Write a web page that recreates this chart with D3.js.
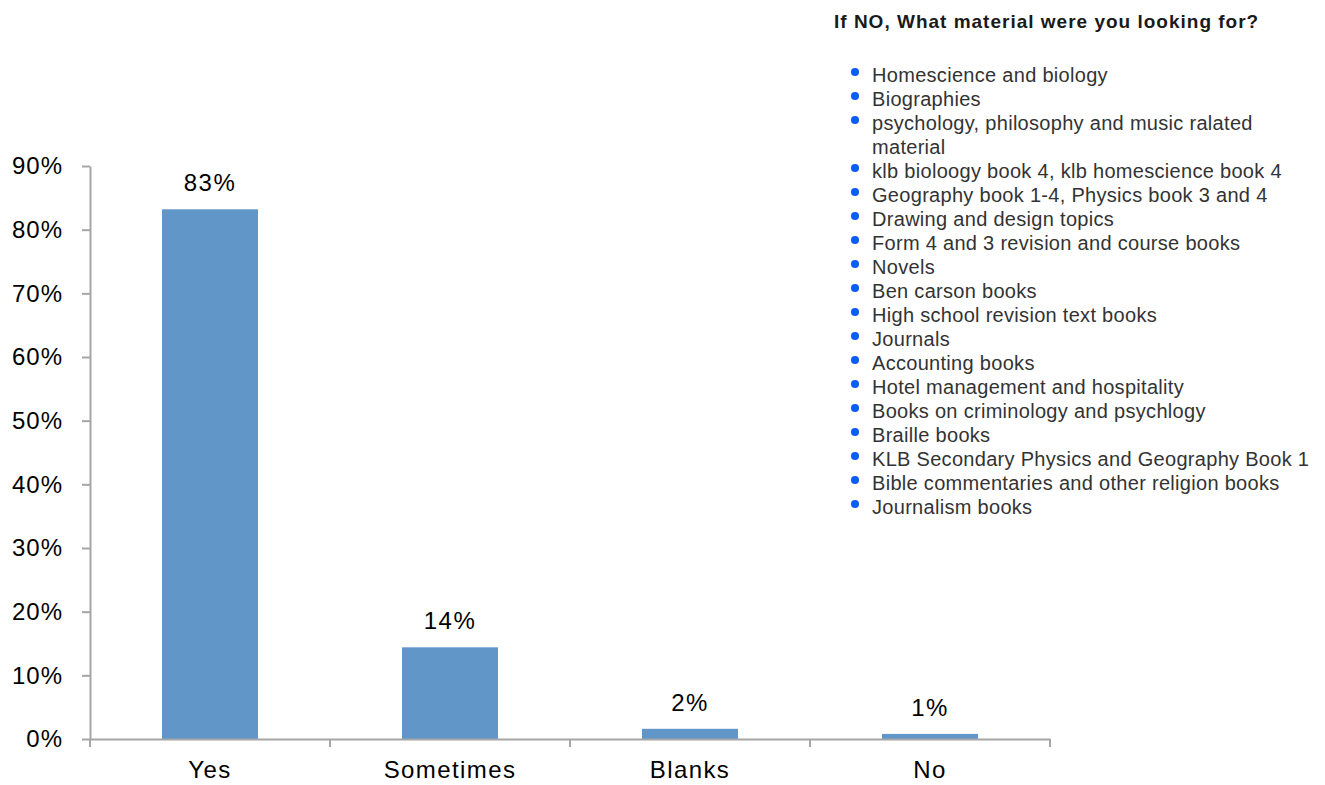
<!DOCTYPE html>
<html>
<head>
<meta charset="utf-8">
<script src="https://cdn.jsdelivr.net/npm/d3@7"></script>
<style>
  html, body { margin: 0; padding: 0; background: #fff; }
  svg { display: block; font-family: "Liberation Sans", Arial, Helvetica, sans-serif; }
</style>
</head>
<body>
<svg id="chart" width="1325" height="785"></svg>
<script>
// Survey answers and their shares
const categories = ["Yes", "Sometimes", "Blanks", "No"];
const shares = [0.832, 0.144, 0.016, 0.008];
const yTicks = [0, 0.1, 0.2, 0.3, 0.4, 0.5, 0.6, 0.7, 0.8, 0.9];

// Free-text answers to the follow-up question
const noteTitle = "If NO, What material were you looking for?";
const materials = [
  "Homescience and biology",
  "Biographies",
  "psychology, philosophy and music ralated material",
  "klb bioloogy book 4, klb homescience book 4",
  "Geography book 1-4, Physics book 3 and 4",
  "Drawing and design topics",
  "Form 4 and 3 revision and course books",
  "Novels",
  "Ben carson books",
  "High school revision text books",
  "Journals",
  "Accounting books",
  "Hotel management and hospitality",
  "Books on criminology and psychlogy",
  "Braille books",
  "KLB Secondary Physics and Geography Book 1",
  "Bible commentaries and other religion books",
  "Journalism books"
];

const svg = d3.select("#chart");
const plot = { left: 90, right: 1050, top: 166, bottom: 739 };
const axisColor = "#a6a6a6";
const barColor = "#6196c9";
const labelFont = "'Liberation Sans', Arial, sans-serif";

const x = d3.scaleBand()
  .domain(categories)
  .range([plot.left, plot.right])
  .paddingInner(0.6)
  .paddingOuter(0.3);

const y = d3.scaleLinear()
  .domain([0, 0.9])
  .range([plot.bottom, plot.top]);

// Y axis
const yAxis = svg.append("g")
  .attr("transform", `translate(${plot.left},0)`)
  .call(d3.axisLeft(y).tickValues(yTicks).tickFormat(d3.format(".0%")).tickSize(8).tickPadding(19).tickSizeOuter(0));
yAxis.select(".domain").attr("stroke", axisColor).attr("stroke-width", 2);
yAxis.selectAll(".tick line").attr("stroke", axisColor).attr("stroke-width", 2);
yAxis.selectAll(".tick text")
  .attr("font-size", 24).attr("letter-spacing", "1px").attr("fill", "#000")
  .attr("font-family", labelFont);

// Bars
svg.append("g").selectAll("rect")
  .data(categories)
  .join("rect")
  .attr("x", d => x(d))
  .attr("width", x.bandwidth())
  .attr("y", (d, i) => y(shares[i]))
  .attr("height", (d, i) => y(0) - y(shares[i]))
  .attr("fill", barColor);

// Value labels
svg.append("g").selectAll("text")
  .data(categories)
  .join("text")
  .attr("x", d => x(d) + x.bandwidth() / 2)
  .attr("y", (d, i) => y(shares[i]) - 18)
  .attr("text-anchor", "middle")
  .attr("font-size", 24)
  .attr("letter-spacing", "1.5px")
  .attr("fill", "#000")
  .text((d, i) => d3.format(".0%")(shares[i]));

// X axis with tick marks at the category boundaries
const xAxis = svg.append("g")
  .attr("transform", `translate(0,${plot.bottom})`)
  .call(d3.axisBottom(x).tickSize(0).tickPadding(22).tickSizeOuter(0));
xAxis.select(".domain").attr("stroke", axisColor).attr("stroke-width", 2);
xAxis.selectAll(".tick text")
  .attr("font-size", 24).attr("letter-spacing", "1.4px").attr("fill", "#000")
  .attr("font-family", labelFont);

const step = x.step();
const edges = d3.range(categories.length + 1).map(i => plot.left + i * step);
xAxis.selectAll(".edge")
  .data(edges)
  .join("line")
  .attr("class", "edge")
  .attr("x1", d => d).attr("x2", d => d)
  .attr("y1", 0).attr("y2", 8)
  .attr("stroke", axisColor)
  .attr("stroke-width", 2);

// Follow-up question and bulleted answers
const note = svg.append("g");
note.append("text")
  .attr("x", 834)
  .attr("y", 28)
  .attr("font-size", 19)
  .attr("letter-spacing", "1px")
  .attr("font-weight", "bold")
  .attr("fill", "#1a1a1a")
  .text(noteTitle);

const lineH = 24;
const textX = 872;
const maxW = 445;
const itemSize = 20;
let lineY = 82;
function itemText(yPos) {
  return note.append("text")
    .attr("x", textX).attr("y", yPos)
    .attr("font-size", itemSize)
    .attr("letter-spacing", "0.3px")
    .attr("fill", "#333");
}
materials.forEach(item => {
  note.append("circle")
    .attr("cx", 855)
    .attr("cy", lineY - 10)
    .attr("r", 4)
    .attr("fill", "#0a5cff");
  const words = item.split(" ");
  let t = itemText(lineY);
  let line = [];
  words.forEach(w => {
    line.push(w);
    t.text(line.join(" "));
    if (t.node().getComputedTextLength() > maxW && line.length > 1) {
      line.pop();
      t.text(line.join(" "));
      line = [w];
      lineY += lineH;
      t = itemText(lineY).text(w);
    }
  });
  lineY += lineH;
});
</script>
</body>
</html>
